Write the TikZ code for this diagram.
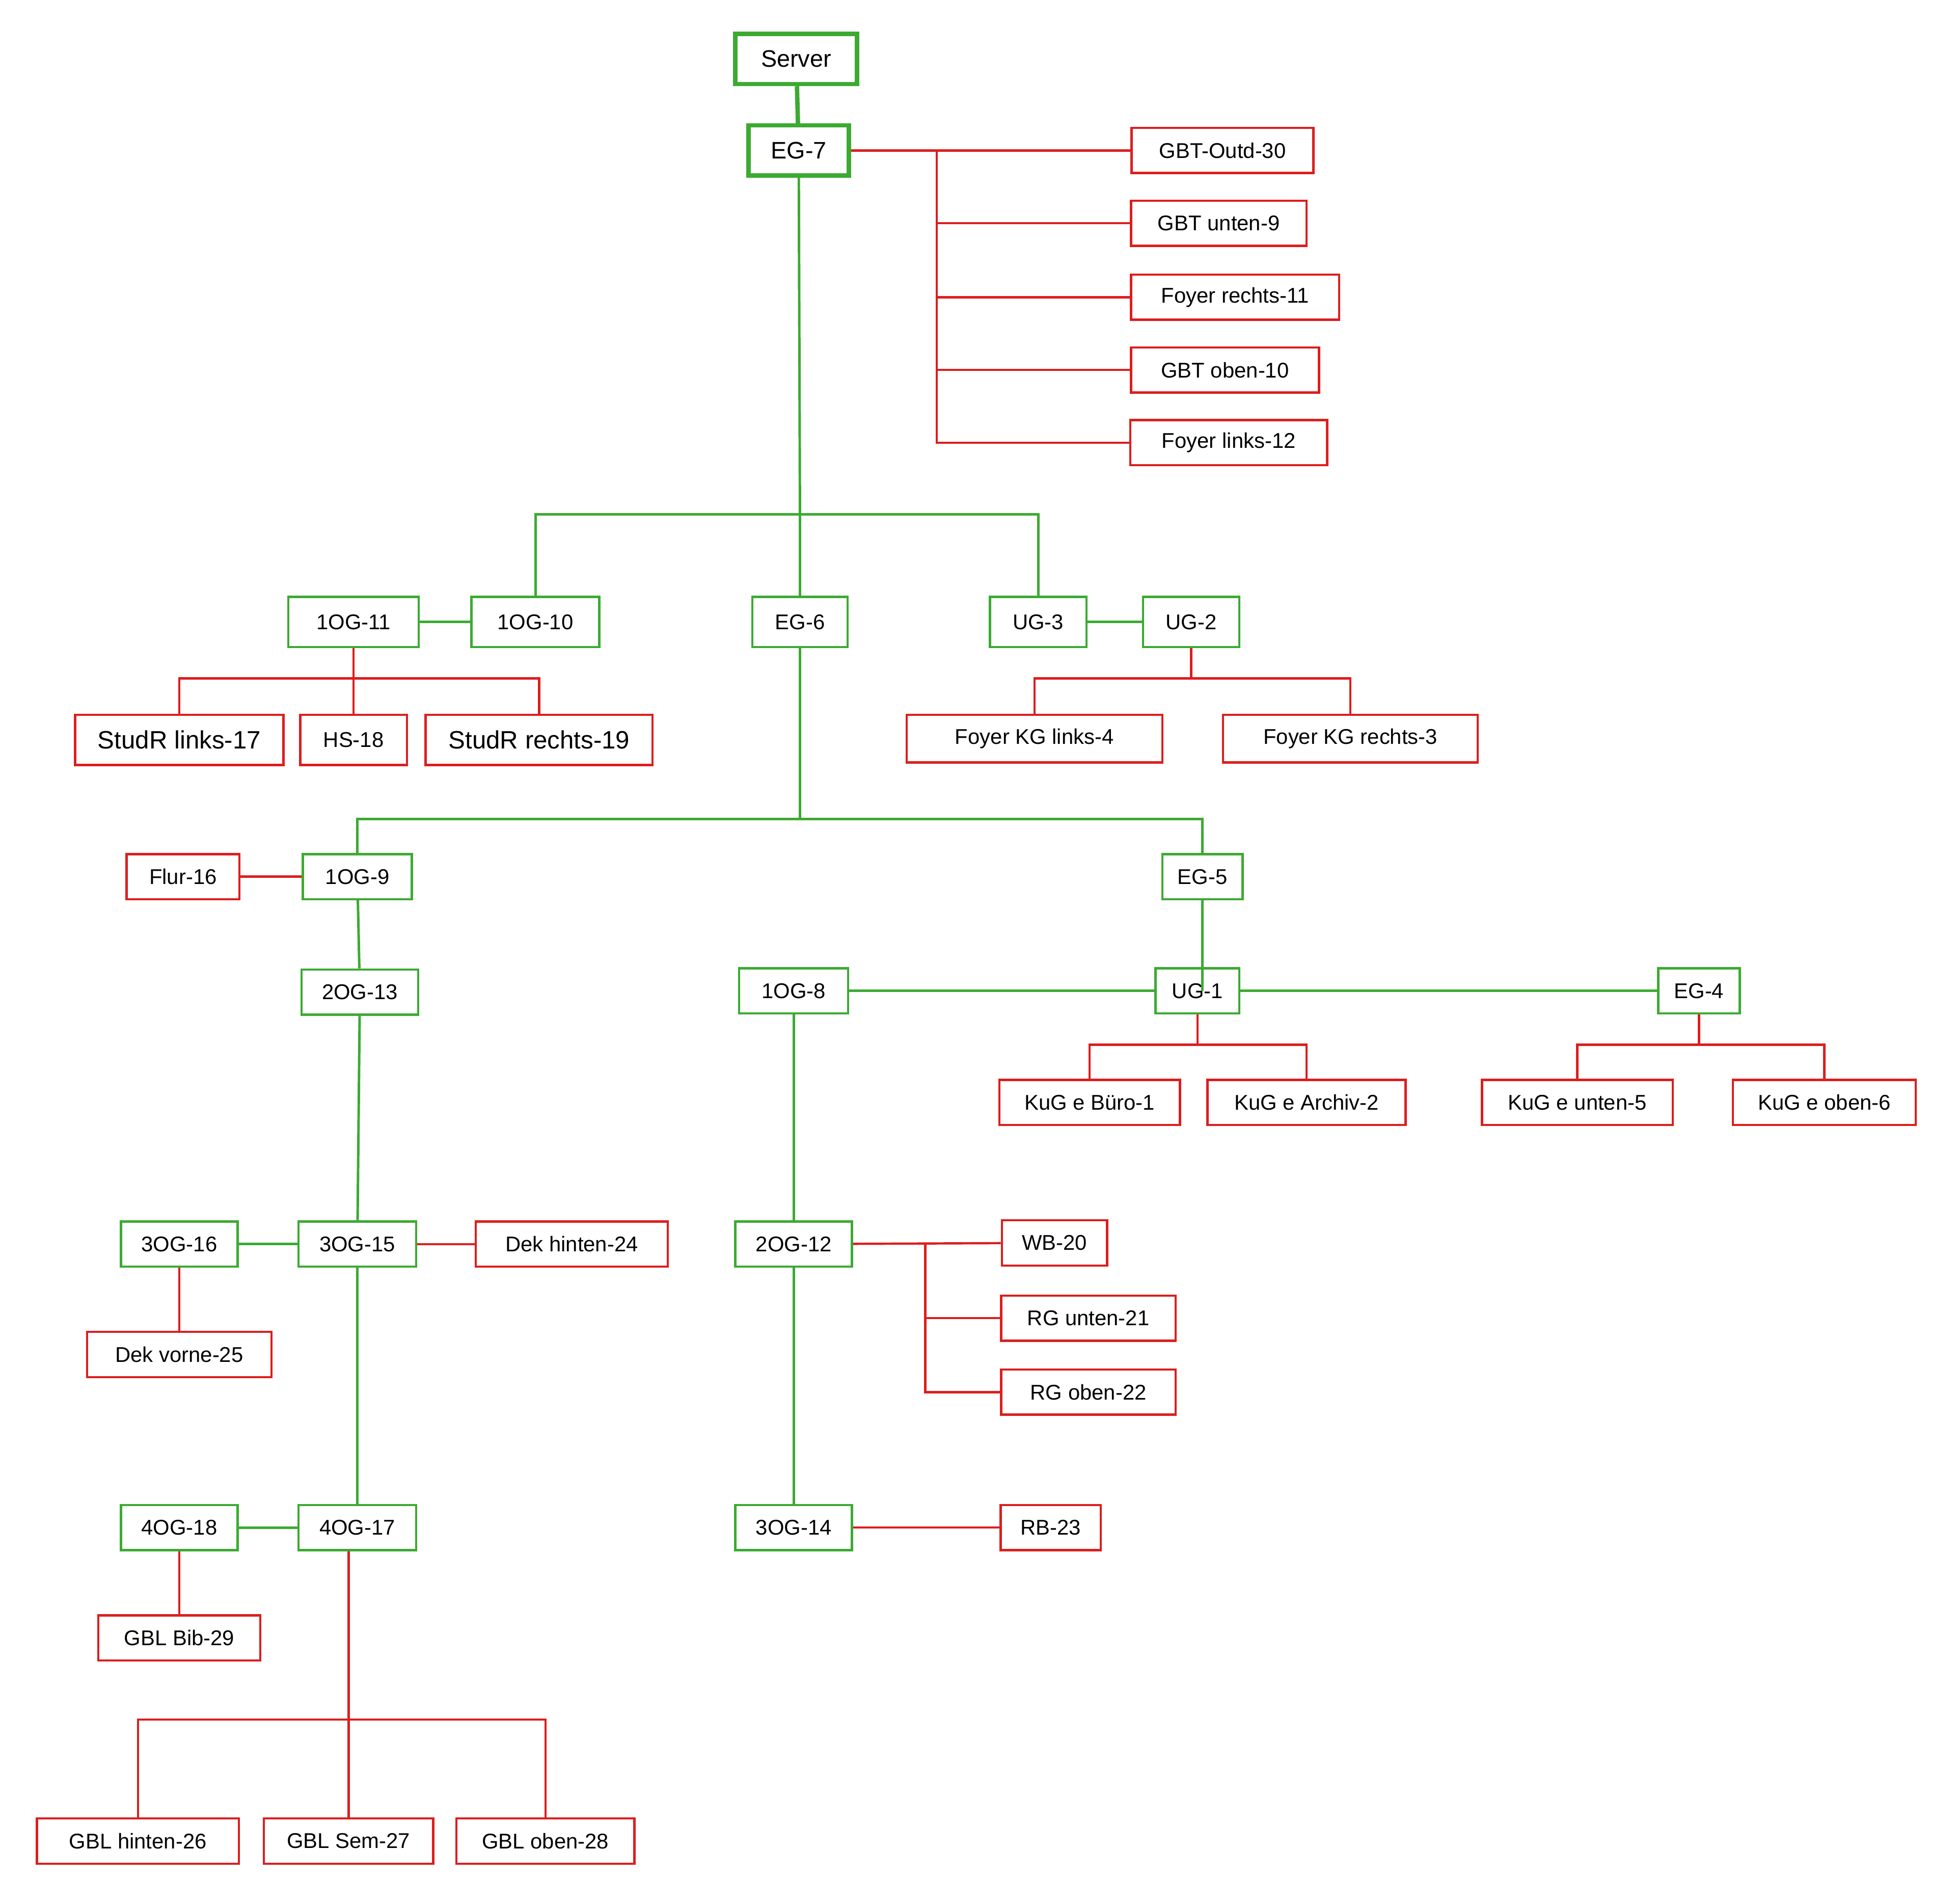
\documentclass[tikz,border=0pt]{standalone}
\usepackage{fontspec}
\setmainfont{Liberation Sans}
\definecolor{gn}{RGB}{60,170,50}
\definecolor{rd}{RGB}{220,30,30}
\begin{document}
\begin{tikzpicture}[x=1pt,y=-1pt,
 g/.style={draw=gn,line width=1.8pt,minimum height=36pt,inner sep=0pt,font=\fontsize{17}{17}\selectfont},
 gt/.style={g,line width=3.5pt,minimum height=40pt,font=\fontsize{19}{19}\selectfont},
 r/.style={draw=rd,line width=1.8pt,minimum height=36pt,inner sep=0pt,font=\fontsize{17}{17}\selectfont},
 gl/.style={draw=gn,line width=2pt},
 gtl/.style={draw=gn,line width=3.5pt},
 rl/.style={draw=rd,line width=1.8pt}]
\useasboundingbox (0,0) rectangle (1560,1518);
\node[gt,minimum width=97pt] (S) at (635,47) {Server};
\node[gt,minimum width=80pt] (E7) at (637,120) {EG-7};
\node[r,minimum width=145pt] (o30) at (975,120) {GBT-Outd-30};
\node[r,minimum width=140pt] (u9) at (972,178) {GBT unten-9};
\node[r,minimum width=166pt] (fr11) at (985,237) {Foyer rechts-11};
\node[r,minimum width=150pt] (ob10) at (977,295) {GBT oben-10};
\node[r,minimum width=157pt] (fl12) at (980,353) {Foyer links-12};
\node[g,minimum width=104pt,minimum height=40pt] (o11) at (282,496) {1OG-11};
\node[g,minimum width=102pt,minimum height=40pt] (o10) at (427,496) {1OG-10};
\node[g,minimum width=76pt,minimum height=40pt] (e6) at (638,496) {EG-6};
\node[g,minimum width=77pt,minimum height=40pt] (u3) at (828,496) {UG-3};
\node[g,minimum width=77pt,minimum height=40pt] (u2) at (950,496) {UG-2};
\node[r,minimum width=166pt,minimum height=40pt,font=\fontsize{20}{20}\selectfont] (s17) at (143,590) {StudR links-17};
\node[r,minimum width=85pt,minimum height=40pt] (h18) at (282,590) {HS-18};
\node[r,minimum width=181pt,minimum height=40pt,font=\fontsize{20}{20}\selectfont] (s19) at (430,590) {StudR rechts-19};
\node[r,minimum width=204pt,minimum height=38pt] (k4) at (825,589) {Foyer KG links-4};
\node[r,minimum width=203pt,minimum height=38pt] (k3) at (1077,589) {Foyer KG rechts-3};
\node[g,minimum width=87pt] (o9) at (285,699) {1OG-9};
\node[g,minimum width=64pt] (e5) at (959,699) {EG-5};
\node[r,minimum width=90pt] (f16) at (146,699) {Flur-16};
\node[g,minimum width=93pt] (o13) at (287,791) {2OG-13};
\node[g,minimum width=87pt] (o8) at (633,790) {1OG-8};
\node[g,minimum width=67pt] (u1) at (955,790) {UG-1};
\node[g,minimum width=65pt] (e4) at (1355,790) {EG-4};
\node[r,minimum width=144pt] (b1) at (869,879) {KuG e Büro-1};
\node[r,minimum width=158pt] (a2) at (1042,879) {KuG e Archiv-2};
\node[r,minimum width=152pt] (ku5) at (1258,879) {KuG e unten-5};
\node[r,minimum width=146pt] (ko6) at (1455,879) {KuG e oben-6};
\node[g,minimum width=94pt] (o15) at (285,992) {3OG-15};
\node[g,minimum width=93pt] (o16) at (143,992) {3OG-16};
\node[r,minimum width=153pt] (d24) at (456,992) {Dek hinten-24};
\node[r,minimum width=147pt] (d25) at (143,1080) {Dek vorne-25};
\node[g,minimum width=93pt] (o12) at (633,992) {2OG-12};
\node[r,minimum width=84pt] (w20) at (841,991) {WB-20};
\node[r,minimum width=139pt] (r21) at (868,1051) {RG unten-21};
\node[r,minimum width=139pt] (r22) at (868,1110) {RG oben-22};
\node[g,minimum width=94pt] (o17) at (285,1218) {4OG-17};
\node[g,minimum width=93pt] (o18) at (143,1218) {4OG-18};
\node[r,minimum width=129pt] (b29) at (143,1306) {GBL Bib-29};
\node[g,minimum width=93pt] (o14) at (633,1218) {3OG-14};
\node[r,minimum width=80pt] (rb23) at (838,1218) {RB-23};
\node[r,minimum width=161pt] (h26) at (110,1468) {GBL hinten-26};
\node[r,minimum width=135pt] (s27) at (278,1468) {GBL Sem-27};
\node[r,minimum width=142pt] (ob28) at (435,1468) {GBL oben-28};
% coordinates
\coordinate (bus1) at (747,120);
\coordinate (j1) at (638,410);
\coordinate (j2) at (282,541);
\coordinate (j3) at (950,541);
\coordinate (j4) at (638,653);
\coordinate (j5) at (955,833);
\coordinate (j6) at (1355,833);
\coordinate (bus2) at (738,992);
\coordinate (j7) at (278,1371);
% connectors
\draw[gtl] (S) -- (E7);
\draw[rl] (E7) -- (o30);
\foreach \n in {u9,fr11,ob10,fl12} \draw[rl] (bus1) |- (\n);
\draw[gl] (E7) -- (j1) -- (e6);
\draw[gl] (j1) -| (o10);
\draw[gl] (j1) -| (u3);
\draw[gl] (o11) -- (o10);
\draw[gl] (u3) -- (u2);
\draw[rl] (o11) -- (j2);
\foreach \n in {s17,h18,s19} \draw[rl] (j2) -| (\n);
\draw[rl] (u2) -- (j3);
\foreach \n in {k4,k3} \draw[rl] (j3) -| (\n);
\draw[gl] (e6) -- (j4);
\draw[gl] (j4) -| (o9);
\draw[gl] (j4) -| (e5);
\draw[rl] (f16) -- (o9);
\draw[gl] (o9) -- (o13);
\draw[gl] (e5.south) -- (e5.south |- u1.center);
\draw[gl] (o8) -- (u1) -- (e4);
\draw[rl] (u1) -- (j5);
\foreach \n in {b1,a2} \draw[rl] (j5) -| (\n);
\draw[rl] (e4) -- (j6);
\foreach \n in {ku5,ko6} \draw[rl] (j6) -| (\n);
\draw[gl] (o13) -- (o15);
\draw[gl] (o16) -- (o15);
\draw[rl] (o15) -- (d24);
\draw[rl] (o16) -- (d25);
\draw[gl] (o15) -- (o17);
\draw[gl] (o18) -- (o17);
\draw[rl] (o18) -- (b29);
\draw[rl] (o17.south -| j7) -- (j7);
\foreach \n in {h26,s27,ob28} \draw[rl] (j7) -| (\n);
\draw[gl] (o8) -- (o12);
\draw[rl] (o12) -- (w20);
\foreach \n in {r21,r22} \draw[rl] (bus2) |- (\n);
\draw[gl] (o12) -- (o14);
\draw[rl] (o14) -- (rb23);
\end{tikzpicture}
\end{document}
